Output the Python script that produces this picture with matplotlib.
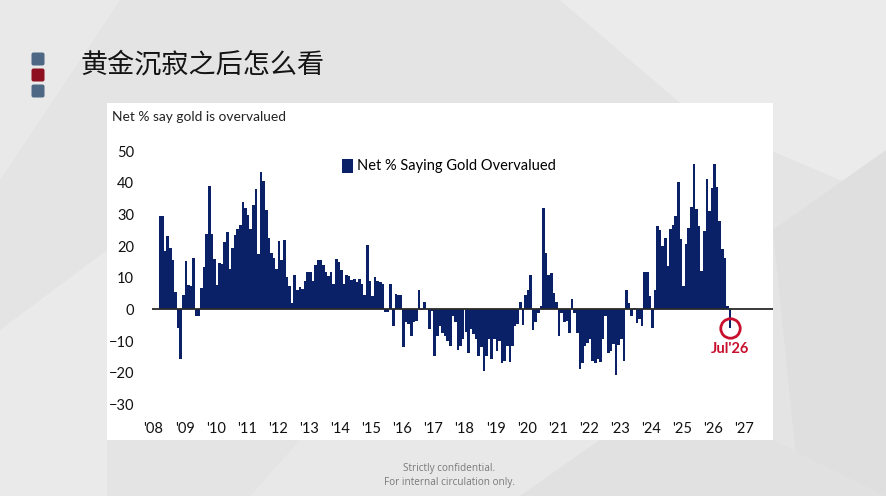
import numpy as np
import pandas as pd
import matplotlib
matplotlib.use("Agg")
import matplotlib.pyplot as plt
from matplotlib.patches import Rectangle, Polygon, FancyBboxPatch

# ---------------- data (monthly) ----------------
start_month = "2008-03"
net_overvalued = [
    29.5, 29.5, 18.4, 23.2, 19.5, 15.6, 5.6, -5.8, -15.6, 4.6, 15.4, 7.7,
    7.4, 16.4, -2.1, -2.1, 6.8, 13.4, 24, 39, 23.8, 16, 7.6, 14.8,
    14.3, 21.4, 24.5, 12.7, 19.5, 23.4, 25.5, 26.6, 34, 32, 30, 25.5,
    33, 38, 17.4, 43.5, 40.6, 31.4, 22.7, 17.9, 16.4, 12.9, 21.7, 15.6,
    21.9, 10.3, 7.4, 1.9, 11, 6.3, 7, 6.5, 9, 11.9, 11.8, 9,
    14.2, 15.6, 15.6, 14.2, 11.8, 10.5, 11.8, 7.9, 16.1, 15.1, 12.4, 7.9,
    11, 10.5, 9.3, 9.5, 8.6, 9.5, 8.2, 4.7, 20.5, 9, 4.2, 10.3,
    9, 8.6, 8.2, -0.8, -0.8, 8.1, -5.3, 5, 4.7, 4.5, -11.8, -4,
    -4.7, -8.4, -4, -3.7, 6.1, -0.2, 2.3, 0, -6.1, -0.5, -14.8, -8.4,
    -5.3, -7.4, -8.4, -10, -11.6, -2.1, -4, -12.9, -11.6, -9.5, -7.2, -13.9,
    -6.3, -7.9, -9.5, -14.8, -11.8, -19.5, -14.8, -9.2, -15.8, -9.5, -13.2, -10,
    -16.9, -16.4, -11.6, -16.7, -11.6, -5.3, -4.5, 2.5, -5, 4.5, 6, 11,
    -6.5, -4, -1, 1, 32, 17.7, 11, 11.6, 5.3, 2.3, -8.4, -1,
    -4, -3.7, -7.6, 3.2, -1, -7.6, -18.8, -17.1, -11.6, -10.5, -9.5, -16.4,
    -16.9, -15.6, -16.7, -9.5, -2.1, -13.7, -13.2, -10.8, -20.6, -11.4, -9.3, -16.4,
    6.3, 2.1, -2.1, 0.5, -4.2, -3, -5.3, 11.8, 11.8, 4.2, -5.8, 6.1,
    26.4, 25.1, 20, 22.7, 13.7, 25.3, 26.7, 29.5, 40.3, 22.2, 7.4, 20.8,
    25.8, 32.5, 46, 31.9, 26.4, 12.3, 24.8, 41.4, 31.1, 38.5, 45.9, 38.8,
    28, 19.2, 16.4, 1, -5.8,
]
years = list(range(2008, 2028))
year_labels = ["'%02d" % (y % 100) for y in years]
y_ticks = [-30, -20, -10, 0, 10, 20, 30, 40, 50]

dates = pd.date_range(start_month, periods=len(net_overvalued), freq="MS")
t = dates.year + (dates.month - 1) / 12.0
last_label = dates[-1].strftime("%b'%y")

# ---------------- figure / slide ----------------
W, H = 886, 496
fig = plt.figure(figsize=(W / 100, H / 100), dpi=100)
fig.patch.set_facecolor("#e4e4e4")

def fx(x):
    return x / W

def fy(y):
    return 1 - y / H

# faint polygon background
polys = [
    ([(0, 0), (120, 0), (0, 180)], "#e9e9e9"),
    ([(560, 0), (886, 0), (886, 200), (700, 120)], "#ebebeb"),
    ([(0, 330), (107, 250), (107, 496), (0, 496)], "#eaeaea"),
    ([(773, 230), (886, 150), (886, 496), (800, 496)], "#dfdfdf"),
    ([(300, 440), (600, 440), (520, 496), (250, 496)], "#e8e8e8"),
    ([(600, 440), (773, 440), (886, 496), (520, 496)], "#e1e1e1"),
]
for pts, col in polys:
    fig.patches.append(Polygon([(fx(a), fy(b)) for a, b in pts], closed=True,
                               transform=fig.transFigure, facecolor=col,
                               edgecolor="none", zorder=-10))

# white chart panel
fig.patches.append(Rectangle((fx(107), fy(440)), fx(773) - fx(107), fy(103) - fy(440),
                             transform=fig.transFigure, facecolor="white",
                             edgecolor="none", zorder=-5))

# three little squares at left
for top, col in [(52, "#4d6784"), (68, "#8e0f1f"), (84, "#4d6784")]:
    fig.patches.append(FancyBboxPatch((0.32, (H - top - 13) / 100), 0.12, 0.12,
                                      boxstyle="round,pad=0.005,rounding_size=0.02",
                                      transform=fig.dpi_scale_trans,
                                      facecolor=col, edgecolor="none"))

fig.text(fx(81), fy(65), "黄金沉寂之后怎么看", fontsize=19.5, va="center", ha="left",
         family=["Noto Sans CJK SC", "DejaVu Sans"], color="#141414")

fig.text(fx(112), fy(117), "Net % say gold is overvalued", fontsize=9.9,
         va="center", ha="left", family=["Lato", "DejaVu Sans"], color="#222222")

fig.text(fx(449), fy(469), "Strictly confidential.", fontsize=7.2, ha="center",
         va="center", color="#7a7a7a", family=["Open Sans", "DejaVu Sans"])
fig.text(fx(449), fy(483), "For internal circulation only.", fontsize=7.2, ha="center",
         va="center", color="#7a7a7a", family=["Open Sans", "DejaVu Sans"])

# ---------------- chart ----------------
ax = fig.add_axes([fx(152), fy(415), fx(773) - fx(152), fy(140) - fy(415)])
ax.set_facecolor("none")

navy = "#0b2167"
ax.bar(t, net_overvalued, width=1 / 12, align="edge", color=navy, linewidth=0,
       label="Net % Saying Gold Overvalued")
ax.axhline(0, color="#2a2a2a", lw=1.3, zorder=3)

px_per_year = 31.1
ax.set_xlim(2008 - 1.5 / px_per_year, 2008 + (773 - 153.5) / px_per_year)
ax.set_ylim(-33.4, 53.6)
ax.set_xticks(years)
ax.set_xticklabels(year_labels)
ax.set_yticks(y_ticks)
ax.tick_params(length=0, labelsize=10.5, colors="#111111")
ax.tick_params(axis="y", pad=13)
ax.tick_params(axis="x", pad=5)
for lab in ax.get_xticklabels() + ax.get_yticklabels():
    lab.set_family(["Lato", "DejaVu Sans"])
for s in ax.spines.values():
    s.set_visible(False)

leg = ax.legend(loc="center left", bbox_to_anchor=(fx(342), fy(166)),
                bbox_transform=fig.transFigure, frameon=False,
                handlelength=0.75, handleheight=1.1, handletextpad=0.25,
                borderpad=0, borderaxespad=0,
                prop={"family": ["Lato", "DejaVu Sans"], "size": 10.5})

# highlight the latest reading
red = "#c8102e"
tx = t[-1] + 1 / 24
ax.plot([tx], [net_overvalued[-1]], marker="o", ms=14, mfc="none", mec=red, mew=2,
        zorder=5)
ax.annotate(last_label, (tx, net_overvalued[-1]), xytext=(0, -15),
            textcoords="offset points", ha="center", va="center", color=red,
            fontsize=10.5, fontweight="bold", family=["Lato", "DejaVu Sans"])

fig.savefig("out.png", dpi=100, facecolor=fig.get_facecolor())
